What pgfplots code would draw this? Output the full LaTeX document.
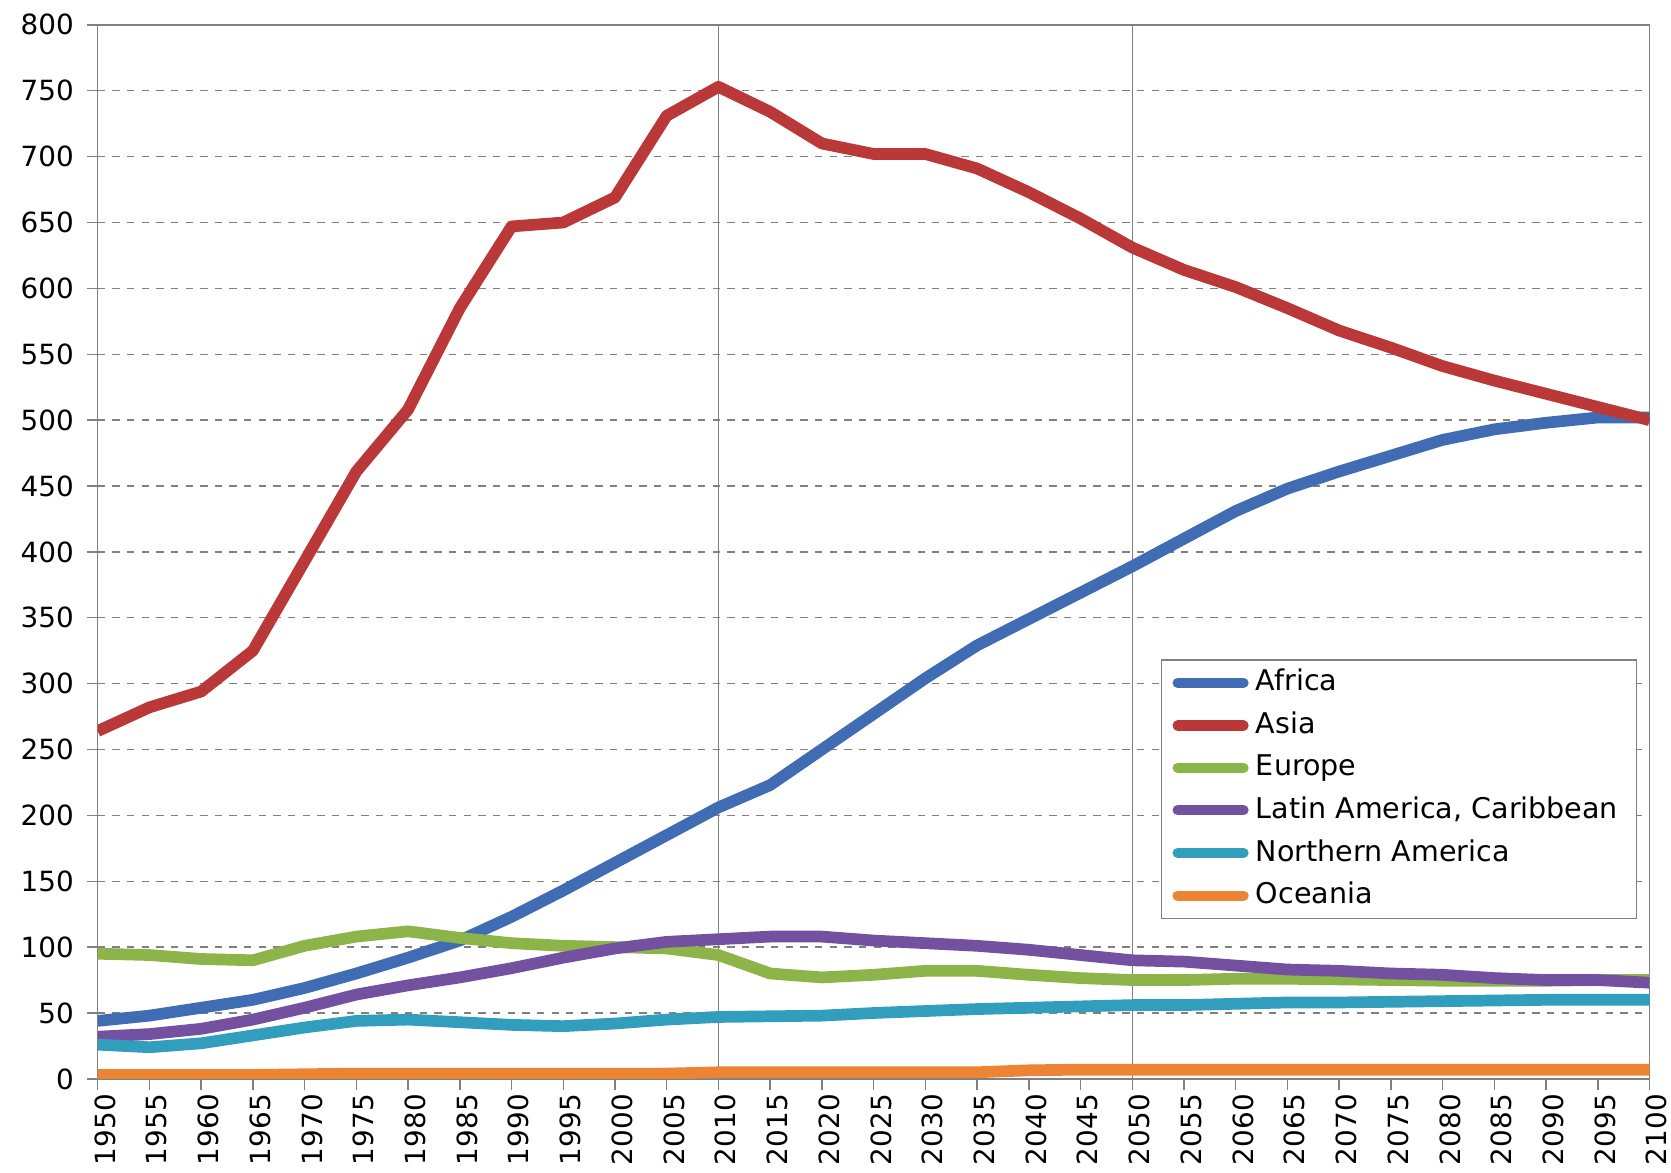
\documentclass[border=0pt]{standalone}
\usepackage{pgfplots}
\pgfplotsset{compat=1.18}
\usepackage{pgfplotstable}
\usepackage{fontspec}
\setmainfont{DejaVu Sans}

\definecolor{cAfrica}{RGB}{64,108,180}
\definecolor{cAsia}{RGB}{186,56,56}
\definecolor{cEurope}{RGB}{140,180,72}
\definecolor{cLatam}{RGB}{116,80,160}
\definecolor{cNam}{RGB}{50,158,190}
\definecolor{cOce}{RGB}{236,132,52}
\definecolor{axgray}{RGB}{128,128,128}

% year, values
\pgfplotstableread{
year Africa Asia Europe Latam Nam Oceania
1950 44 264 95 32 26 3
1955 48 282 94 34 24 3
1960 54 294 91 38 27 3
1965 60 325 90 45 33 3
1970 69 393 101 54 39 3.5
1975 80 461 108 64 44 4
1980 92 508 112 71 45 4
1985 105 585 107 77 43 4
1990 123 647 103 84 41 4
1995 143 650 101 92 40 4
2000 164 669 100 99 42 4
2005 185 731 99 104 45 4
2010 206 753 94 106 47 5
2015 223 734 80 108 47.5 5
2020 250 710 77 108 48 5
2025 277 702 79 105 50 5
2030 304 702 82 103 51.5 5
2035 329 691 82 101 53 5
2040 349 673 79 98 54 6.5
2045 369 653 76.5 94 55 7
2050 389 631 75 90 56 7
2055 410 614 75 89 56 7
2060 431 601 76 86 57 7
2065 448 585 76 83 58 7
2070 461 568 75.5 82 58 7
2075 473 555 75 80 58.5 7
2080 485 541 74.5 79 59 7
2085 493 530 74.5 76.5 59.5 7
2090 498 520 74.5 75 60 7
2095 502 510 75 75 60 7
2100 502 500 75 73 60 7
}\popdata

\begin{document}
\begin{tikzpicture}
\begin{axis}[
    scale only axis,
    width=424pt, height=288pt,
    xmin=1950, xmax=2100,
    ymin=0, ymax=800,
    xtick={1950,1955,...,2100},
    ytick={0,50,...,800},
    axis line style={axgray},
    tick style={axgray, thin},
    tick align=outside,
    major tick length=3pt,
    xtick pos=bottom, ytick pos=left,
    ymajorgrids,
    major grid style={axgray, thin, dash pattern=on 2pt off 2pt},
    extra x ticks={2010,2050},
    extra x tick labels={},
    extra x tick style={grid=major, major grid style={axgray, thin, solid}},
    tick label style={font=\fontsize{7.6}{9}\selectfont, black},
    xticklabel style={rotate=90, anchor=east, inner sep=1pt, yshift=-2pt},
    /pgf/number format/assume math mode=true,
    /pgf/number format/1000 sep={},
    legend style={at={(0.992,0.398)}, anchor=north east, draw=axgray,
        font=\fontsize{7.8}{9}\selectfont, row sep=0.25pt,
        inner xsep=3pt, inner ysep=0.5pt},
    legend cell align=left,
    legend image code/.code={\draw[#1, line width=2.8pt, line cap=round] (0pt,0pt) -- (18pt,0pt);},
    every axis plot/.append style={line width=3.2pt, line join=round},
    clip mode=individual,
]
\addplot[cAfrica] table[x=year, y=Africa] {\popdata};
\addlegendentry{Africa}
\addplot[cAsia] table[x=year, y=Asia] {\popdata};
\addlegendentry{Asia}
\addplot[cEurope] table[x=year, y=Europe] {\popdata};
\addlegendentry{Europe}
\addplot[cLatam] table[x=year, y=Latam] {\popdata};
\addlegendentry{Latin America, Caribbean}
\addplot[cNam] table[x=year, y=Nam] {\popdata};
\addlegendentry{Northern America}
\addplot[cOce] table[x=year, y=Oceania] {\popdata};
\addlegendentry{Oceania}
\path (rel axis cs:0,0) ++(-26.7pt,-25.6pt) coordinate (bbA);
\path (rel axis cs:1,1) ++(4.4pt,6.8pt) coordinate (bbB);
\end{axis}
\path (bbA) rectangle (bbB);
\end{tikzpicture}
\end{document}
